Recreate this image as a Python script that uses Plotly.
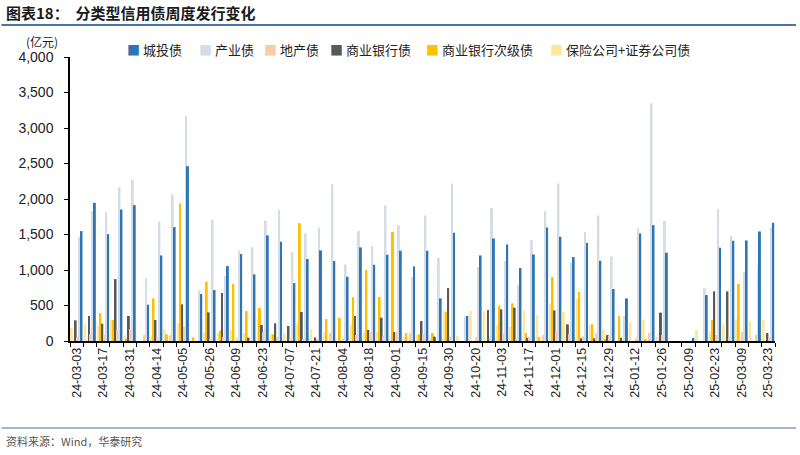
import plotly.graph_objects as go

# weekly issuance by type (亿元)
weeks = [
    "24-03-03", "24-03-10", "24-03-17", "24-03-24", "24-03-31", "24-04-07",
    "24-04-14", "24-04-28", "24-05-05", "24-05-12", "24-05-26", "24-06-02",
    "24-06-09", "24-06-16", "24-06-23", "24-06-30", "24-07-07", "24-07-14",
    "24-07-21", "24-07-28", "24-08-04", "24-08-11", "24-08-18", "24-08-25",
    "24-09-01", "24-09-08", "24-09-15", "24-09-22", "24-09-30", "24-10-13",
    "24-10-20", "24-10-27", "24-11-03", "24-11-10", "24-11-17", "24-11-24",
    "24-12-01", "24-12-08", "24-12-15", "24-12-22", "24-12-29", "25-01-05",
    "25-01-12", "25-01-19", "25-01-26", "25-02-02", "25-02-09", "25-02-16",
    "25-02-23", "25-03-02", "25-03-09", "25-03-16", "25-03-23",
]

chengtou = [
    1548, 1946, 1505, 1852, 1913, 511, 1205, 1604, 2462, 661, 717, 1055,
    1224, 938, 1487, 1398, 816, 1154, 1276, 1126, 905, 1318, 1074, 1215,
    1271, 1051, 1271, 600, 1524, 352, 1205, 1445, 1360, 1027, 1219, 1599,
    1468, 1182, 1379, 1130, 732, 600, 1515, 1632, 1243, 0, 42, 647,
    1313, 1412, 1416, 1543, 1665,
]
chanye = [
    1463, 1829, 1810, 2167, 2275, 886, 1684, 2064, 3170, 717, 1712, 914,
    1276, 1323, 1698, 1848, 1252, 1515, 1600, 2209, 1079, 1552, 1337, 1909,
    1632, 905, 1768, 1168, 2218, 347, 1041, 1871, 1130, 788, 1416, 1829,
    2218, 1102, 1538, 1768, 1191, 352, 1585, 3349, 1693, 0, 10, 746,
    1862, 1477, 976, 1065, 1599,
]
dichan = [
    47, 94, 84, 155, 169, 84, 56, 84, 202, 0, 23, 56,
    38, 10, 122, 56, 38, 20, 23, 117, 23, 84, 122, 66,
    127, 113, 94, 0, 56, 0, 52, 38, 103, 20, 56, 84,
    136, 94, 66, 113, 75, 10, 38, 113, 84, 0, 0, 0,
    84, 56, 127, 89, 56,
]
shangye = [
    291, 352, 244, 872, 352, 0, 295, 0, 516, 0, 403, 675,
    0, 47, 225, 249, 211, 408, 52, 0, 0, 352, 155, 328,
    127, 0, 281, 61, 746, 0, 0, 436, 446, 469, 42, 0,
    431, 235, 38, 38, 84, 47, 0, 0, 399, 0, 0, 0,
    699, 699, 0, 0, 113,
]
ciji = [
    0, 0, 394, 295, 28, 0, 600, 94, 1937, 52, 835, 145,
    802, 422, 464, 94, 0, 1660, 0, 310, 328, 619, 999, 619,
    1534, 113, 94, 113, 408, 0, 0, 0, 497, 530, 113, 56,
    905, 0, 689, 235, 23, 352, 0, 28, 0, 0, 0, 0,
    295, 0, 802, 0, 0,
]
baoxian = [
    178, 235, 211, 295, 84, 0, 56, 169, 249, 0, 113, 113,
    155, 117, 310, 103, 108, 235, 169, 122, 0, 235, 131, 131,
    0, 61, 94, 20, 431, 75, 422, 422, 225, 202, 431, 366,
    530, 408, 591, 235, 164, 0, 258, 305, 56, 0, 0, 155,
    141, 244, 305, 281, 300,
]

# left-to-right order inside each week group is the reverse of the legend
series = [
    ("保险公司+证券公司债", baoxian, "#FFE699"),
    ("商业银行次级债", ciji, "#FFC000"),
    ("商业银行债", shangye, "#595959"),
    ("地产债", dichan, "#F8CBAD"),
    ("产业债", chanye, "#D6DCE5"),
    ("城投债", chengtou, "#2E75B6"),
]

fig = go.Figure()
for name, vals, color in series:
    fig.add_trace(go.Bar(x=weeks, y=vals, name=name, marker_color=color,
                         marker_line_width=0, showlegend=False))

cjk = "Noto Sans CJK SC"

fig.update_layout(
    width=800, height=455,
    margin=dict(l=70, r=25, t=57, b=114, autoexpand=False),
    plot_bgcolor="white", paper_bgcolor="white",
    barmode="group", bargap=0.12, bargroupgap=0,
    font=dict(family="Liberation Sans, Arial", size=13, color="#000000"),
    showlegend=False,
)

fig.update_yaxes(range=[0, 4000], dtick=500, tickformat=",",
                 showgrid=False, zeroline=False, automargin=False,
                 showline=True, linecolor="black", linewidth=1.5,
                 ticks="outside", ticklen=4, tickcolor="black",
                 ticklabelstandoff=8,
                 tickfont=dict(size=14, color="#222222"))

fig.update_xaxes(type="category", tickmode="array", tickvals=weeks,
                 ticktext=[w if i % 2 == 0 else "" for i, w in enumerate(weeks)],
                 tickson="boundaries", tickangle=-90, automargin=False,
                 showline=True, linecolor="black", linewidth=1.5,
                 ticks="outside", ticklen=4, tickcolor="black",
                 tickfont=dict(size=12.5, color="#222222"),
                 showgrid=False)


def px_x(p):
    return (p - 70) / 705


def px_y(p):
    return (341 - p) / 284


# legend drawn as text, in the reference order
legend_x = [125, 197, 262, 328, 424, 548]
for (name, _, color), lx in zip(series[::-1], legend_x):
    fig.add_annotation(text=f"<span style='color:{color}'>■</span> {name}",
                       xref="paper", yref="paper", x=px_x(lx), y=px_y(50),
                       xanchor="left", yanchor="middle", showarrow=False,
                       font=dict(family=cjk, size=13, color="#222222"))

# title, unit, source and the rules
fig.add_annotation(text="<b>图表18：  分类型信用债周度发行变化</b>",
                   xref="paper", yref="paper", x=px_x(4), y=px_y(13),
                   xanchor="left", yanchor="middle", showarrow=False,
                   font=dict(family=cjk, size=15, color="#1a1a1a"))
fig.add_annotation(text="(亿元)", xref="paper", yref="paper",
                   x=px_x(42), y=px_y(42), xanchor="center", yanchor="middle",
                   showarrow=False, font=dict(family=cjk, size=12, color="#222222"))
fig.add_annotation(text="资料来源：Wind，华泰研究", xref="paper", yref="paper",
                   x=px_x(4), y=px_y(441), xanchor="left", yanchor="middle",
                   showarrow=False, font=dict(family=cjk, size=11, color="#555555"))

# horizontal rules under the title and above the source line (arrow-only annotations)
for y_px, w in [(25, 2), (428, 1.2)]:
    fig.add_annotation(text="", xref="paper", yref="paper",
                       x=px_x(796), y=px_y(y_px), ax=-796, ay=0,
                       showarrow=True, arrowhead=0, arrowwidth=w,
                       arrowcolor="#4A73A8", standoff=0, startstandoff=0)

# the page body has a default margin; drop it so the figure sits at (0, 0)
fig.write_html("out.html", config={"displayModeBar": False},
               post_script="document.body.style.margin='0';")
